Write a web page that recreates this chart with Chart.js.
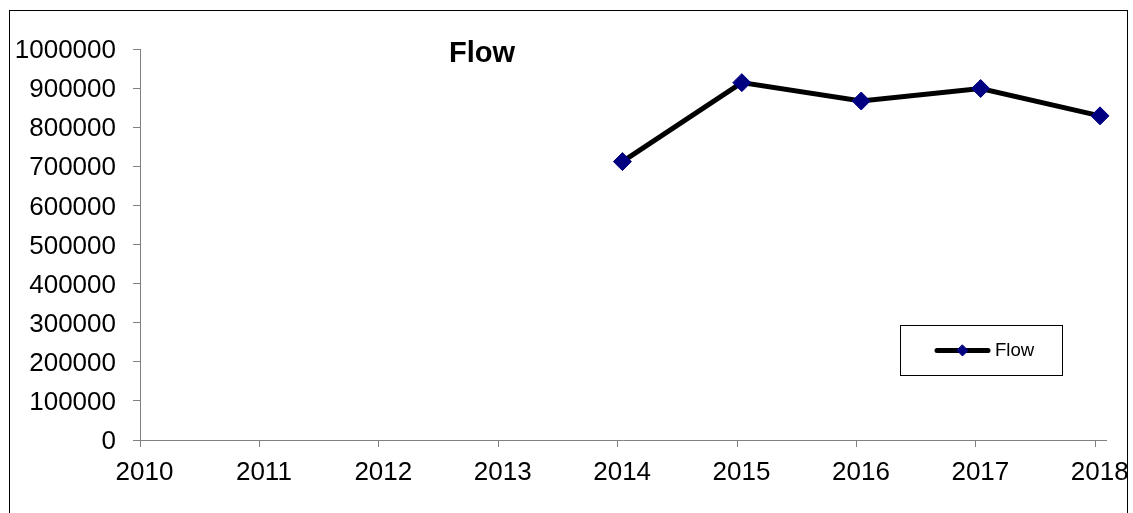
<!DOCTYPE html>
<html>
<head>
<meta charset="utf-8">
<title>Flow</title>
<script src="https://cdn.jsdelivr.net/npm/chart.js@4/dist/chart.umd.min.js"></script>
<style>
  html, body { margin: 0; padding: 0; background: #fff; }
  #wrap { width: 1128px; height: 513px; overflow: hidden; }
</style>
</head>
<body>
<div id="wrap"><canvas id="chart" width="1128" height="513"></canvas></div>
<script>
// Year axis tick labels
const yearTicks = [2010, 2011, 2012, 2013, 2014, 2015, 2016, 2017, 2018];
// Flow readings (mid-January of each year)
const flowYears = [2014.04, 2015.04, 2016.04, 2017.04, 2018.04];
const flowValues = [712000, 914000, 867000, 899000, 829000];
// Value axis ticks
const valueTicks = [0, 100000, 200000, 300000, 400000, 500000, 600000, 700000, 800000, 900000, 1000000];

const FONT = "'Liberation Sans', Arial, sans-serif";
const SERIES_NAME = 'Flow';

// Outer frame of the chart object
const framePlugin = {
  id: 'frame',
  afterDraw(chart) {
    const ctx = chart.ctx;
    ctx.save();
    ctx.strokeStyle = '#000';
    ctx.lineWidth = 1;
    ctx.strokeRect(9.5, 10.5, 1118, 600);
    ctx.restore();
  }
};

// Title placed inside the plot region
const titlePlugin = {
  id: 'innerTitle',
  afterDraw(chart) {
    const ctx = chart.ctx;
    ctx.save();
    ctx.fillStyle = '#000';
    ctx.font = 'bold 29px ' + FONT;
    ctx.textAlign = 'center';
    ctx.textBaseline = 'middle';
    ctx.fillText(SERIES_NAME, 482, 54);
    ctx.restore();
  }
};

// Boxed legend with line + marker sample
const legendPlugin = {
  id: 'boxLegend',
  afterDraw(chart) {
    const ds = chart.data.datasets[0];
    const ctx = chart.ctx;
    ctx.save();
    ctx.fillStyle = '#fff';
    ctx.fillRect(900, 325, 162, 50);
    ctx.strokeStyle = '#000';
    ctx.lineWidth = 1;
    ctx.strokeRect(900.5, 325.5, 162, 50);
    ctx.strokeStyle = ds.borderColor;
    ctx.lineWidth = 5;
    ctx.lineCap = 'round';
    ctx.beginPath();
    ctx.moveTo(937, 350.5);
    ctx.lineTo(988, 350.5);
    ctx.stroke();
    ctx.fillStyle = ds.pointBackgroundColor;
    ctx.strokeStyle = ds.pointBorderColor;
    ctx.lineWidth = 1;
    ctx.beginPath();
    ctx.moveTo(962.5, 345);
    ctx.lineTo(968, 350.5);
    ctx.lineTo(962.5, 356);
    ctx.lineTo(957, 350.5);
    ctx.closePath();
    ctx.fill();
    ctx.stroke();
    ctx.fillStyle = '#000';
    ctx.font = '18.6px ' + FONT;
    ctx.textAlign = 'left';
    ctx.textBaseline = 'middle';
    ctx.fillText(ds.label, 995, 351);
    ctx.restore();
  }
};

new Chart(document.getElementById('chart'), {
  type: 'line',
  data: {
    datasets: [{
      label: SERIES_NAME,
      data: flowYears.map((x, i) => ({ x: x, y: flowValues[i] })),
      borderColor: '#000',
      borderWidth: 5,
      tension: 0,
      pointStyle: 'rectRot',
      pointRadius: 9,
      pointBackgroundColor: '#000080',
      pointBorderColor: '#000080',
      pointBorderWidth: 1,
      clip: false
    }]
  },
  options: {
    responsive: false,
    animation: false,
    devicePixelRatio: 1,
    events: [],
    layout: { padding: { top: 49, left: 0, right: 22, bottom: 0 } },
    plugins: {
      legend: { display: false },
      tooltip: { enabled: false },
      title: { display: false }
    },
    scales: {
      x: {
        type: 'linear',
        min: 2010,
        max: 2018.09,
        afterBuildTicks(scale) {
          scale.ticks = yearTicks.map(v => ({ value: v }));
        },
        afterFit(scale) {
          scale.height = 73;
          scale.paddingLeft = 0;
          scale.paddingRight = 0;
        },
        ticks: {
          includeBounds: false,
          autoSkip: false,
          maxRotation: 0,
          labelOffset: 4.5,
          padding: 10,
          color: '#000',
          font: { family: FONT, size: 26 },
          callback: v => String(v)
        },
        grid: {
          drawOnChartArea: false,
          drawTicks: true,
          tickLength: 7,
          color: '#808080',
          lineWidth: 1
        },
        border: { display: true, color: '#808080', width: 1 }
      },
      y: {
        type: 'linear',
        min: 0,
        max: 1000000,
        afterBuildTicks(scale) {
          scale.ticks = valueTicks.map(v => ({ value: v }));
        },
        afterFit(scale) {
          scale.width = 140;
        },
        ticks: {
          padding: 17,
          labelOffset: 2,
          color: '#000',
          font: { family: FONT, size: 26 },
          callback: v => String(v)
        },
        grid: {
          drawOnChartArea: false,
          drawTicks: true,
          tickLength: 7,
          color: '#808080',
          lineWidth: 1
        },
        border: { display: true, color: '#808080', width: 1 }
      }
    }
  },
  plugins: [framePlugin, titlePlugin, legendPlugin]
});
</script>
</body>
</html>
